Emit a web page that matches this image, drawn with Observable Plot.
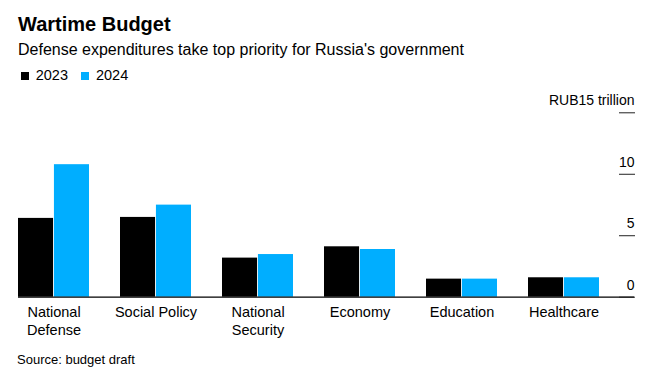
<!DOCTYPE html>
<html>
<head>
<meta charset="utf-8">
<script src="https://cdn.jsdelivr.net/npm/d3@7"></script>
<script src="https://cdn.jsdelivr.net/npm/@observablehq/plot@0.6"></script>
<style>
  html, body { margin: 0; padding: 0; background: #fff; }
  #wrap { position: relative; width: 651px; height: 367px; font-family: "Liberation Sans", Arial, Helvetica, sans-serif; color: #000; overflow: hidden; }
  .t { position: absolute; white-space: nowrap; }
  #title { left: 18px; top: 13.8px; font-size: 20px; line-height: 20px; font-weight: bold; }
  #subtitle { left: 18px; top: 42.2px; font-size: 16px; line-height: 16px; }
  #legend { left: 20.7px; top: 67.7px; font-size: 14.5px; line-height: 14.5px; display: flex; align-items: baseline; }
  .sw { display: inline-block; width: 8px; height: 8px; margin-right: 7px; }
  .item { display: inline-flex; align-items: baseline; margin-right: 13px; }
  #chart { position: absolute; left: 0; top: 88px; }
  #caption { left: 17px; top: 353px; font-size: 13px; line-height: 13px; }
</style>
</head>
<body>
<div id="wrap">
  <div id="title" class="t">Wartime Budget</div>
  <div id="subtitle" class="t">Defense expenditures take top priority for Russia's government</div>
  <div id="legend" class="t"></div>
  <div id="chart"></div>
  <div id="caption" class="t">Source: budget draft</div>
</div>
<script>
const categories = ["National Defense", "Social Policy", "National Security", "Economy", "Education", "Healthcare"];
const years = ["2023", "2024"];
const values2023 = [6.41, 6.49, 3.18, 4.10, 1.47, 1.58];
const values2024 = [10.78, 7.49, 3.47, 3.88, 1.47, 1.58];
const yTicks = [0, 5, 10, 15];
const yUnitLabel = "RUB15 trillion";
const colors = ["#000000", "#00aeff"];

// legend
const legend = document.getElementById("legend");
years.forEach((yr, i) => {
  const item = document.createElement("span");
  item.className = "item";
  const sw = document.createElement("span");
  sw.className = "sw";
  sw.style.background = colors[i];
  item.appendChild(sw);
  item.appendChild(document.createTextNode(yr));
  legend.appendChild(item);
});

const rows2023 = categories.map((c, i) => ({category: c, year: years[0], value: values2023[i]}));
const rows2024 = categories.map((c, i) => ({category: c, year: years[1], value: values2024[i]}));

const W = 651, mL = 18, mR = 17;
const padIn = 0.3, padOut = 0.15;
const step = (W - mL - mR) / (categories.length - padIn + 2 * padOut);
const half = step * (1 - padIn) / 2;

const chart = Plot.plot({
  width: W,
  height: 254,
  marginTop: 24.3,
  marginBottom: 45.3,
  marginLeft: mL,
  marginRight: mR,
  style: {fontFamily: "'Liberation Sans', Arial, Helvetica, sans-serif", fontSize: "14.5px", color: "#000", background: "#fff", overflow: "visible"},
  x: {domain: categories, paddingInner: padIn, paddingOuter: padOut, align: 0, axis: null},
  y: {domain: [0, 15], axis: null},
  marks: [
    Plot.barY(rows2023, {x: "category", y: "value", fill: colors[0], insetRight: half}),
    Plot.barY(rows2024, {x: "category", y: "value", fill: colors[1], insetLeft: half}),
    Plot.ruleY([0], {stroke: "#000", strokeWidth: 1.2}),
    Plot.axisY(yTicks, {
      anchor: "right", label: null, tickSize: 16, dx: -16, stroke: "#222",
      tickFormat: () => ""
    }),
    Plot.axisY(yTicks, {
      anchor: "right", label: null, tickSize: 0, tickPadding: 0,
      textAnchor: "end", lineAnchor: "bottom", dy: -7.5,
      tickFormat: d => d === 15 ? yUnitLabel : String(d), fontSize: 14
    }),
    Plot.axisX({
      anchor: "bottom", label: null, tickSize: 0, tickPadding: 6,
      lineWidth: 7, lineHeight: 1.3, fontSize: 14.5
    })
  ]
});
document.getElementById("chart").appendChild(chart);
</script>
</body>
</html>
